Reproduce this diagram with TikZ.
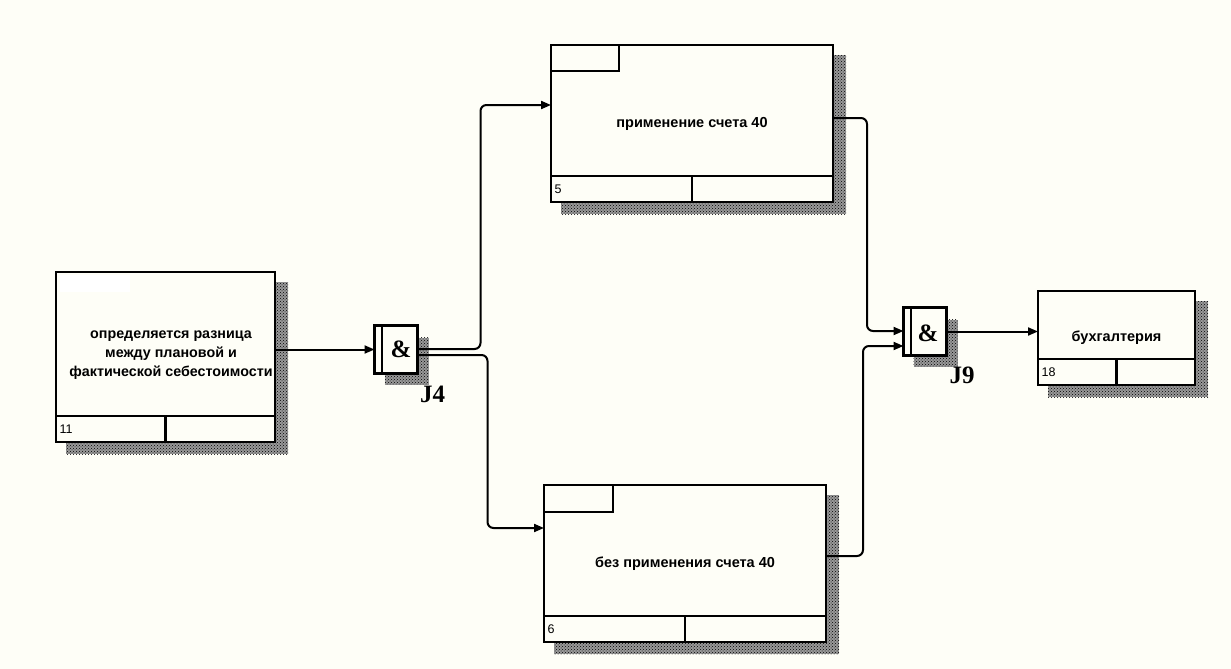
\documentclass[tikz,border=0pt]{standalone}
\usepackage{fontspec}
\setmainfont{Liberation Sans}
\newfontfamily\jfont{Liberation Serif}
\usetikzlibrary{patterns,calc,arrows.meta}
\definecolor{bg}{RGB}{254,254,247}
\pgfdeclarelayer{bgfill}
\pgfdeclarelayer{shadow}
\pgfsetlayers{bgfill,shadow,main}
\tikzset{
  box/.style={draw, line width=2.4pt, fill=bg, rectangle, inner sep=0pt, outer sep=0pt, align=center,
    font=\fontsize{14.5}{19}\selectfont\bfseries},
  btext/.style={align=center, inner sep=0pt, font=\fontsize{14.3}{19}\selectfont\bfseries},
  junc/.style={draw, line width=2.4pt, fill=bg, rectangle, inner sep=0pt, outer sep=0pt,
    minimum width=43pt, minimum height=48pt},
  shd/.style={fill=black!40, postaction={pattern=crosshatch dots, pattern color=black}},
  thick line/.style={line width=2.4pt},
  conn/.style={line width=2pt, rounded corners=6pt, -{Triangle[length=10pt,width=8pt]}},
  amp/.style={font=\jfont\bfseries\fontsize{25}{25}\selectfont, inner sep=0pt},
  jlab/.style={font=\jfont\bfseries\fontsize{25}{25}\selectfont, inner sep=0pt},
  num/.style={font=\fontsize{12.5}{13}\selectfont, inner sep=0pt, anchor=west}
}
\begin{document}
\begin{tikzpicture}[x=1pt,y=-1pt]
\useasboundingbox (0,0) rectangle (1231,669);
\begin{pgfonlayer}{bgfill}
  \fill[bg] (0,0) rectangle (1231,669);
\end{pgfonlayer}

% boxes
\node[box, minimum width=219pt, minimum height=170pt] (b11) at (165.5,357) {};
\node[btext] (t11) at (171,355)
  {определяется разница\\между плановой и\\фактической себестоимости};
\node[box, minimum width=282pt, minimum height=157pt] (b5) at (692,123.5) {применение счета 40};
\node[box, minimum width=282pt, minimum height=157pt] (b6) at (685,563.5) {без применения счета 40};
\node[box, minimum width=157pt, minimum height=94pt] (b18) at (1116.5,338) {бухгалтерия};

% junctions
\node[junc] (j4) at (396,349.5) {};
\node[junc] (j9) at (925,331.5) {};

% shadows
\begin{pgfonlayer}{shadow}
  \foreach \b in {b11,b5,b6,b18}{
    \fill[shd] ($(\b.north west)+(10,10)$) rectangle ($(\b.south east)+(13,12)$);
  }
  \foreach \j in {j4,j9}{
    \fill[shd] ($(\j.north west)+(10,12)$) rectangle ($(\j.south east)+(11,11)$);
  }
\end{pgfonlayer}

% footers
\foreach \b in {b11,b5,b6,b18}{
  \draw[thick line] ($(\b.south west)+(0,-26)$) -- ($(\b.south east)+(0,-26)$);
  \draw[thick line] ($(\b.south)+(0,-26)$) -- (\b.south);
}
\node[num] (n11) at ($(b11.south west)+(3.5,-13)$) {11};
\node[num] (n5) at ($(b5.south west)+(3.5,-13)$) {5};
\node[num] (n6) at ($(b6.south west)+(3.5,-13)$) {6};
\node[num] (n18) at ($(b18.south west)+(3.5,-13)$) {18};

% reference label boxes
\draw[thick line] (b5.north west) rectangle ($(b5.north west)+(68,26)$);
\draw[thick line] (b6.north west) rectangle ($(b6.north west)+(69,27)$);
\fill[white] ($(b11.north west)+(4,3)$) rectangle ($(b11.north west)+(74,20)$);

% junction details
\foreach \j in {j4,j9}{
  \draw[line width=1.8pt] ($(\j.north west)+(7.5,0)$) -- ($(\j.south west)+(7.5,0)$);
}
\node[amp] (a4) at (401,349) {\&};
\node[amp] (a9) at (928,333) {\&};
\node[jlab] (l4) at (432.5,394) {J4};
\node[jlab] (l9) at (962,375) {J9};

% connectors
\draw[conn] (b11.east |- j4.west) -- (j4.west);
\draw[conn] ($(j4.east)+(0,-0.5)$) -- ++(63,0) |- ($(b5.north west)+(0,60)$);
\draw[conn] ($(j4.east)+(0,5.5)$) -- ++(70,0) |- ($(b6.north west)+(0,43)$);
\draw[conn] ($(b5.north east)+(0,73)$) -- ++(34,0) |- ($(j9.west)+(0,-0.5)$);
\draw[conn] ($(b6.north east)+(0,71)$) -- ++(37,0) |- ($(j9.west)+(0,14.5)$);
\draw[conn] (j9.east) -- (b18.west |- j9.east);
\end{tikzpicture}
\end{document}
